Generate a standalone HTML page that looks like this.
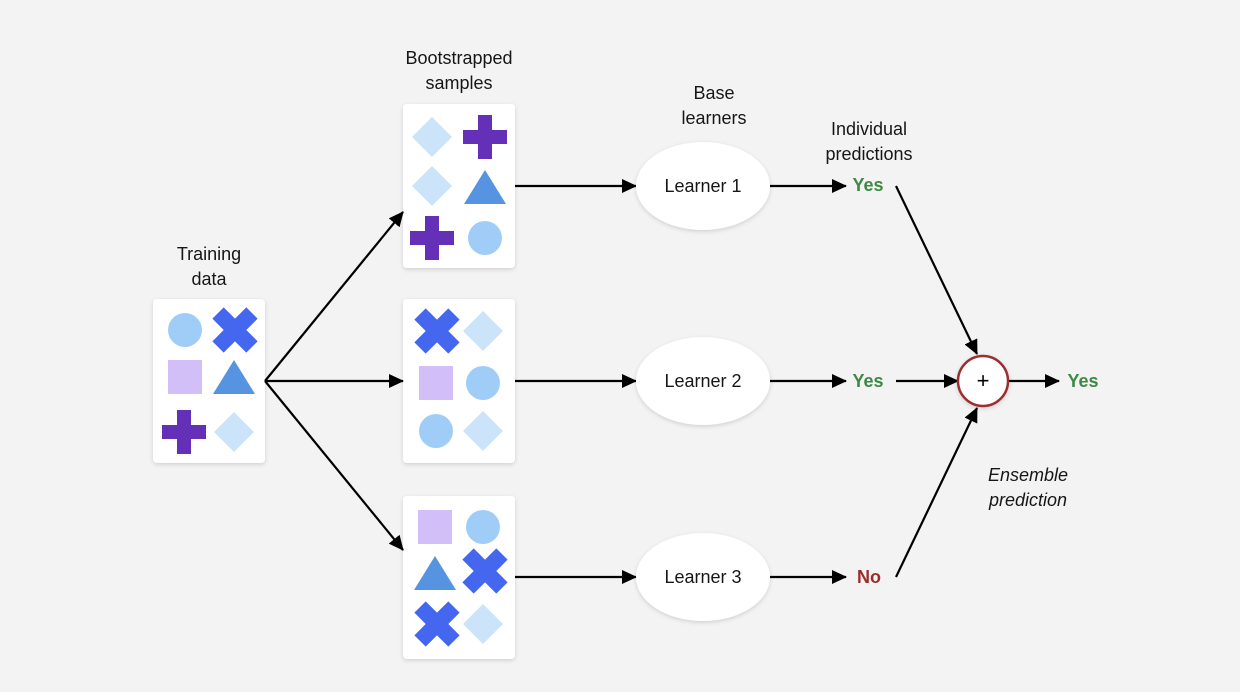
<!DOCTYPE html>
<html><head><meta charset="utf-8"><style>
html,body{margin:0;padding:0;background:#f3f3f3;}
svg{display:block;font-family:"Liberation Sans",sans-serif;}
</style></head><body>
<svg width="1240" height="692" viewBox="0 0 1240 692" xmlns="http://www.w3.org/2000/svg">
<defs>
<filter id="sh" x="-20%" y="-20%" width="140%" height="140%"><feDropShadow dx="0" dy="1.5" stdDeviation="2" flood-color="#000" flood-opacity="0.15"/></filter>
<marker id="ar" markerWidth="16" markerHeight="14" refX="14" refY="7" orient="auto" markerUnits="userSpaceOnUse"><path d="M0,0 L15,7 L0,14 z" fill="#000"/></marker>
<g id="ci"><circle r="17" fill="#9fcdf8"/></g>
<g id="sq"><rect x="-17" y="-17" width="34" height="34" fill="#d2bff7"/></g>
<g id="tr"><polygon points="0,-18 21,16 -21,16" fill="#5694e2"/></g>
<g id="di"><polygon points="0,-20 20,0 0,20 -20,0" fill="#cce4fa"/></g>
<g id="pl"><path d="M-7,-22 H7 V-7 H22 V7 H7 V22 H-7 V7 H-22 V-7 H-7 z" fill="#6530b8"/></g>
<g id="xx"><path d="M-8,-24 H8 V-8 H24 V8 H8 V24 H-8 V8 H-24 V-8 H-8 z" fill="#4567f0" transform="rotate(45)"/></g>
</defs>

<rect x="153" y="299" width="112" height="164" rx="4" fill="#fff" filter="url(#sh)"/>
<rect x="403" y="104" width="112" height="164" rx="4" fill="#fff" filter="url(#sh)"/>
<rect x="403" y="299" width="112" height="164" rx="4" fill="#fff" filter="url(#sh)"/>
<rect x="403" y="496" width="112" height="163" rx="4" fill="#fff" filter="url(#sh)"/>

<use href="#ci" x="185" y="330"/><use href="#xx" x="235" y="330"/>
<use href="#sq" x="185" y="377"/><use href="#tr" x="234" y="378"/>
<use href="#pl" x="184" y="432"/><use href="#di" x="234" y="432"/>
<use href="#di" x="432" y="137"/><use href="#pl" x="485" y="137"/>
<use href="#di" x="432" y="186"/><use href="#tr" x="485" y="188"/>
<use href="#pl" x="432" y="238"/><use href="#ci" x="485" y="238"/>
<use href="#xx" x="437" y="331"/><use href="#di" x="483" y="331"/>
<use href="#sq" x="436" y="383"/><use href="#ci" x="483" y="383"/>
<use href="#ci" x="436" y="431"/><use href="#di" x="483" y="431"/>
<use href="#sq" x="435" y="527"/><use href="#ci" x="483" y="527"/>
<use href="#tr" x="435" y="574"/><use href="#xx" x="485" y="571"/>
<use href="#xx" x="437" y="624"/><use href="#di" x="483" y="624"/>

<g stroke="#000" stroke-width="2.2" fill="none" marker-end="url(#ar)">
<line x1="265" y1="381" x2="403" y2="212"/>
<line x1="265" y1="381" x2="403" y2="381"/>
<line x1="265" y1="381" x2="403" y2="550"/>
<line x1="515" y1="186" x2="636" y2="186"/>
<line x1="515" y1="381" x2="636" y2="381"/>
<line x1="515" y1="577" x2="636" y2="577"/>
<line x1="770" y1="186" x2="846" y2="186"/>
<line x1="770" y1="381" x2="846" y2="381"/>
<line x1="770" y1="577" x2="846" y2="577"/>
<line x1="896" y1="186" x2="977" y2="354"/>
<line x1="896" y1="381" x2="958" y2="381"/>
<line x1="896" y1="577" x2="977" y2="408"/>
<line x1="1009" y1="381" x2="1059" y2="381"/>
</g>

<g filter="url(#sh)" fill="#fff">
<ellipse cx="703" cy="186" rx="67" ry="44"/>
<ellipse cx="703" cy="381" rx="67" ry="44"/>
<ellipse cx="703" cy="577" rx="67" ry="44"/>
<circle cx="983" cy="381" r="25" stroke="#9b2d2d" stroke-width="2.5"/>
</g>
<text x="983" y="388" font-size="22" text-anchor="middle" fill="#000">+</text>

<g font-size="18" text-anchor="middle" fill="#161616">
<text x="703" y="192">Learner 1</text>
<text x="703" y="387">Learner 2</text>
<text x="703" y="583">Learner 3</text>
<text x="209" y="260">Training</text><text x="209" y="285">data</text>
<text x="459" y="64">Bootstrapped</text><text x="459" y="89">samples</text>
<text x="714" y="99">Base</text><text x="714" y="124">learners</text>
<text x="869" y="135">Individual</text><text x="869" y="160">predictions</text>
<text x="1028" y="481" font-style="italic">Ensemble</text><text x="1028" y="506" font-style="italic">prediction</text>
</g>
<g font-size="18" font-weight="bold" text-anchor="middle">
<text x="868" y="191" fill="#3d8a44">Yes</text>
<text x="868" y="387" fill="#3d8a44">Yes</text>
<text x="869" y="583" fill="#9b2d2d">No</text>
<text x="1083" y="387" fill="#3d8a44">Yes</text>
</g>
</svg>
</body></html>
